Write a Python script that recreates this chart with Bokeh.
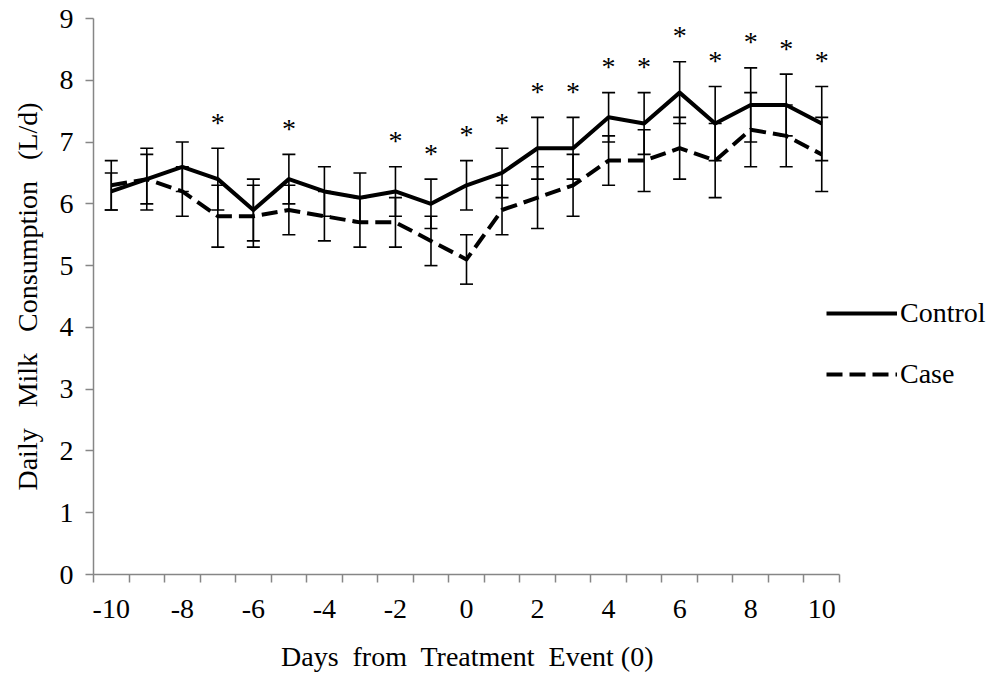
from bokeh.plotting import figure
from bokeh.models import FixedTicker, Legend, LegendItem, ColumnDataSource
from bokeh.core.properties import value
from bokeh.embed import file_html
from bokeh.resources import INLINE

# Daily milk consumption (L/d) around the treatment event
days = list(range(-10, 11))
control = [6.2, 6.4, 6.6, 6.4, 5.9, 6.4, 6.2, 6.1, 6.2, 6.0, 6.3,
           6.5, 6.9, 6.9, 7.4, 7.3, 7.8, 7.3, 7.6, 7.6, 7.3]
control_err = [0.3, 0.5, 0.4, 0.5, 0.5, 0.4, 0.4, 0.4, 0.4, 0.4, 0.4,
               0.4, 0.5, 0.5, 0.4, 0.5, 0.5, 0.6, 0.6, 0.5, 0.6]
case = [6.3, 6.4, 6.2, 5.8, 5.8, 5.9, 5.8, 5.7, 5.7, 5.4, 5.1,
        5.9, 6.1, 6.3, 6.7, 6.7, 6.9, 6.7, 7.2, 7.1, 6.8]
case_err = [0.4, 0.4, 0.4, 0.5, 0.5, 0.4, 0.4, 0.4, 0.4, 0.4, 0.4,
            0.4, 0.5, 0.5, 0.4, 0.5, 0.5, 0.6, 0.6, 0.5, 0.6]
significant_days = [-7, -5, -2, -1, 0, 1, 2, 3, 4, 5, 6, 7, 8, 9, 10]
x_tick_labels = [-10, -8, -6, -4, -2, 0, 2, 4, 6, 8, 10]
y_tick_labels = list(range(0, 10))

FONT = "Liberation Serif"
FONT_SIZE = "28px"
AXIS_GREY = "#868686"

# The frame runs to the right edge so the legend can sit beside the data;
# the x axis itself is bounded to the day range.
PX_PER_DAY = 746 / 21
X_END = -10.5 + 902 / PX_PER_DAY

p = figure(width=995, height=677, x_range=(-10.5, X_END), y_range=(0, 9),
           output_backend="svg", toolbar_location=None,
           min_border_left=93, min_border_right=0,
           min_border_top=18, min_border_bottom=103)
p.outline_line_color = None
p.xgrid.visible = False
p.ygrid.visible = False
p.background_fill_color = "white"
p.border_fill_color = "white"

# x axis: category-style ticks between days, labels on even days
xa = p.xaxis[0]
xa.bounds = (-10.5, 10.5)
xa.ticker = FixedTicker(ticks=x_tick_labels,
                        minor_ticks=[d - 0.5 for d in days] + [days[-1] + 0.5])
xa.major_label_overrides = {d: str(d).replace("\u2212", "-") for d in x_tick_labels}
xa.major_tick_out = 0
xa.major_tick_in = 0
xa.minor_tick_out = 8
xa.minor_tick_in = 0
xa.minor_tick_line_color = AXIS_GREY
xa.minor_tick_line_width = 1.5
xa.axis_line_color = AXIS_GREY
xa.axis_line_width = 1.5
xa.major_label_text_font = FONT
xa.major_label_text_font_size = FONT_SIZE
xa.major_label_text_color = "black"
xa.major_label_standoff = 17
# the label is centred on the whole frame; trailing no-break spaces pull it
# back over the bounded day axis
xa.axis_label = "Days\u00a0 from\u00a0 Treatment\u00a0 Event (0)" + "\u00a0" * 22
xa.axis_label_text_font = FONT
xa.axis_label_text_font_size = FONT_SIZE
xa.axis_label_text_font_style = "normal"
xa.axis_label_text_color = "black"
xa.axis_label_standoff = 20

ya = p.yaxis[0]
ya.ticker = FixedTicker(ticks=y_tick_labels)
ya.major_tick_out = 8
ya.major_tick_in = 0
ya.minor_tick_out = 0
ya.minor_tick_in = 0
ya.major_tick_line_color = AXIS_GREY
ya.major_tick_line_width = 1.5
ya.axis_line_color = AXIS_GREY
ya.axis_line_width = 1.5
ya.major_label_text_font = FONT
ya.major_label_text_font_size = FONT_SIZE
ya.major_label_text_color = "black"
ya.major_label_standoff = 12
ya.axis_label = "Daily\u00a0\u00a0 Milk\u00a0\u00a0 Consumption\u00a0\u00a0 (L/d)"
ya.axis_label_text_font = FONT
ya.axis_label_text_font_size = FONT_SIZE
ya.axis_label_text_font_style = "normal"
ya.axis_label_text_color = "black"
ya.axis_label_standoff = 14

src = ColumnDataSource(dict(
    day=days,
    control=control,
    c_hi=[v + e for v, e in zip(control, control_err)],
    c_lo=[v - e for v, e in zip(control, control_err)],
    case=case,
    k_hi=[v + e for v, e in zip(case, case_err)],
    k_lo=[v - e for v, e in zip(case, case_err)],
))

# error bars (drawn beneath the series lines)
for hi, lo in (("c_hi", "c_lo"), ("k_hi", "k_lo")):
    p.segment(x0="day", y0=lo, x1="day", y1=hi, source=src,
              line_color="black", line_width=1.6)
    p.scatter(x="day", y=hi, source=src, marker="dash", size=13,
              line_color="black", line_width=1.6)
    p.scatter(x="day", y=lo, source=src, marker="dash", size=13,
              line_color="black", line_width=1.6)

r_case = p.line(x="day", y="case", source=src, line_color="black",
                line_width=4, line_dash="16 7", line_join="round")
r_control = p.line(x="day", y="control", source=src, line_color="black",
                   line_width=4, line_join="round")

# significance markers above the control error bars
sig_idx = [days.index(d) for d in significant_days]
sig_src = ColumnDataSource(dict(
    x=significant_days,
    y=[control[i] + control_err[i] for i in sig_idx],
    t=["*"] * len(significant_days),
))
p.text(x="x", y="y", text="t", source=sig_src, text_font=value(FONT),
       text_font_size=FONT_SIZE, text_align="center", text_baseline="middle",
       y_offset=-26, text_color="black")

legend = Legend(items=[LegendItem(label="Control", renderers=[r_control]),
                       LegendItem(label="Case", renderers=[r_case])],
                location=(733, 184), orientation="vertical",
                glyph_width=71, glyph_height=30, label_height=30,
                label_standoff=3, spacing=29, padding=0, margin=0,
                label_text_font=FONT, label_text_font_size=FONT_SIZE,
                label_text_color="black",
                border_line_alpha=0, background_fill_alpha=0)
p.add_layout(legend, "center")

open("out.html", "w").write(file_html(p, INLINE))
